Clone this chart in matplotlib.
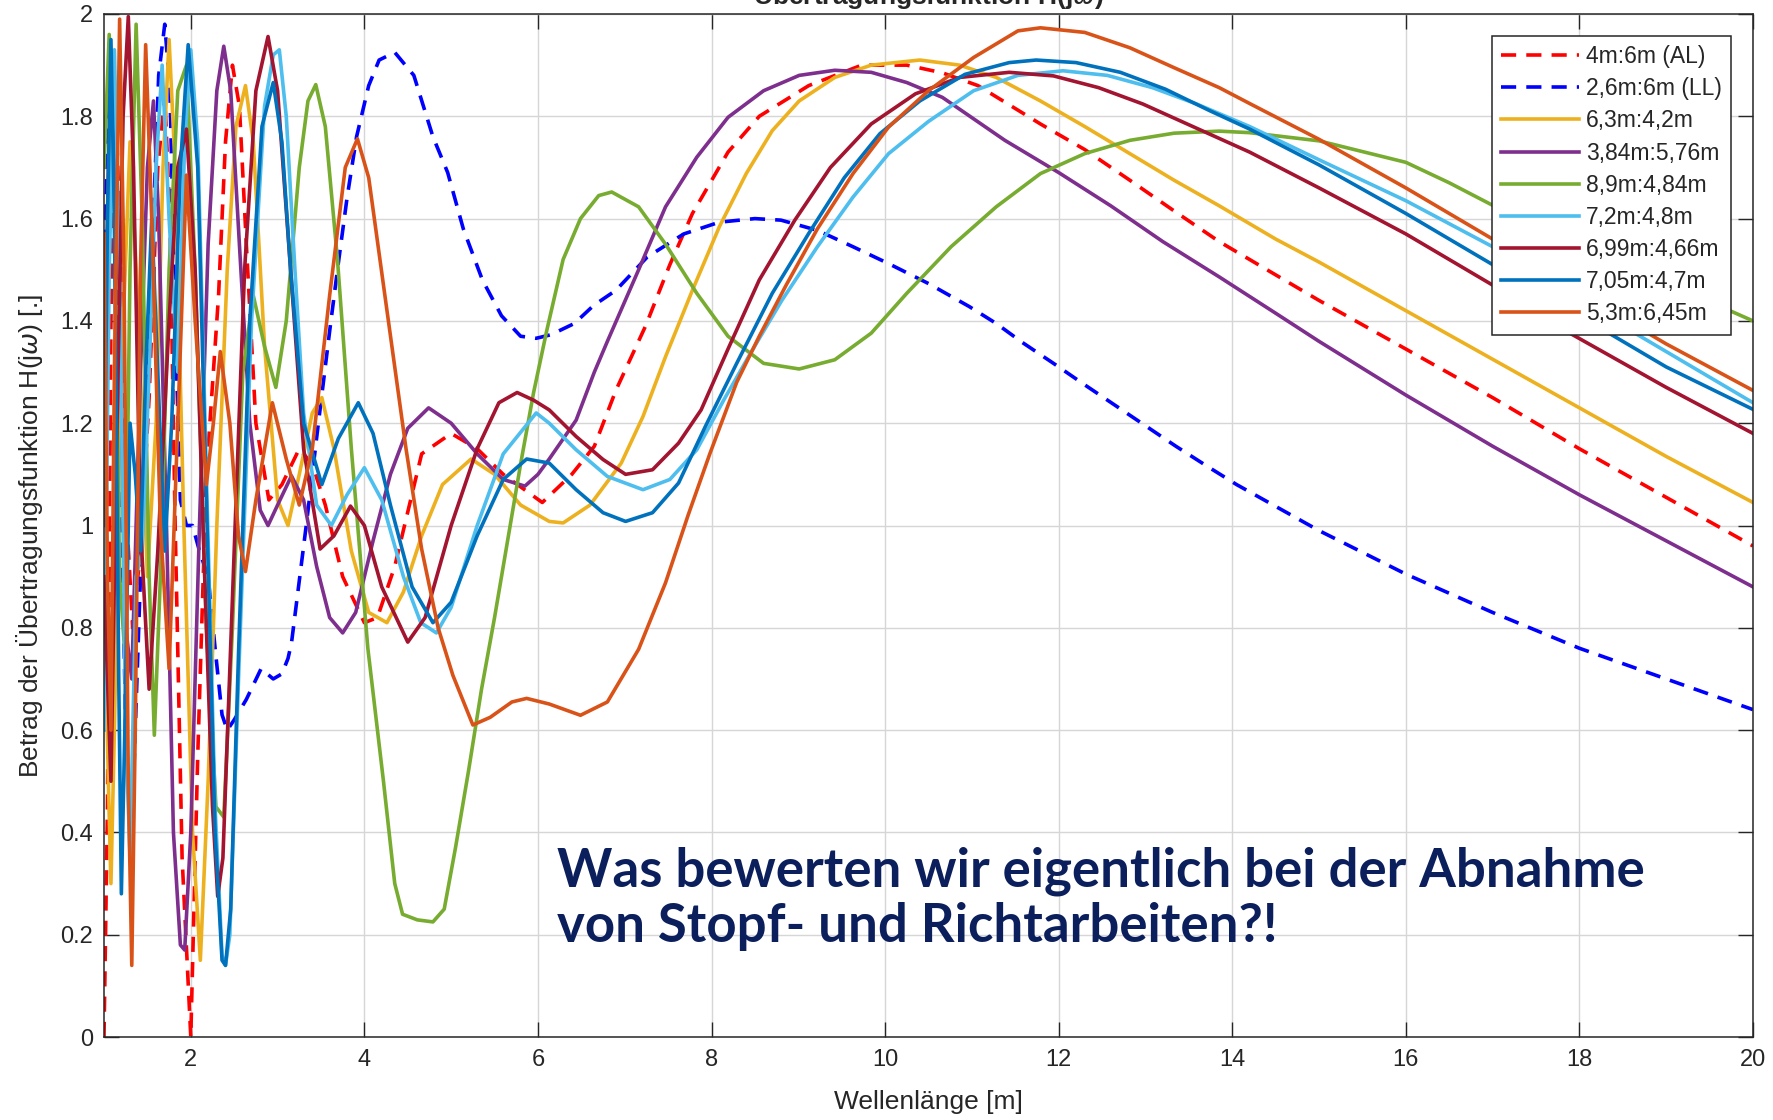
import matplotlib.pyplot as plt

# Betrag der Uebertragungsfunktion (x = Wellenlaenge in m)
al_x = [1.00, 1.04, 1.08, 1.13, 1.18, 1.25, 1.33, 1.42, 1.52, 1.62, 1.70, 1.76, 1.82, 1.90, 2.00, 2.08, 2.18, 2.32, 2.40, 2.48, 2.56, 2.64, 2.75, 2.90, 3.05, 3.25, 3.40, 3.55, 3.75, 4.00, 4.15, 4.35, 4.66, 5.00, 5.30, 5.60, 6.05, 6.39, 6.65, 6.90, 7.24, 7.52, 7.78, 8.19, 8.55, 9.12, 9.73, 10.25, 10.66, 11.07, 11.79, 12.30, 12.82, 13.33, 13.85, 14.50, 15.00, 16.00, 17.00, 18.00, 19.00, 20.00]
al_y = [0.00, 0.45, 1.40, 1.84, 1.60, 1.05, 0.80, 0.95, 1.25, 1.70, 1.84, 1.60, 1.00, 0.35, 0.00, 0.55, 1.10, 1.45, 1.75, 1.90, 1.82, 1.55, 1.20, 1.05, 1.08, 1.15, 1.12, 1.04, 0.90, 0.81, 0.82, 0.92, 1.14, 1.18, 1.15, 1.10, 1.045, 1.10, 1.155, 1.265, 1.39, 1.51, 1.61, 1.73, 1.80, 1.86, 1.90, 1.90, 1.885, 1.86, 1.785, 1.735, 1.675, 1.615, 1.555, 1.49, 1.44, 1.345, 1.25, 1.15, 1.055, 0.96]

ll_x = [1.00, 1.04, 1.08, 1.15, 1.25, 1.32, 1.40, 1.50, 1.57, 1.63, 1.70, 1.76, 1.82, 1.88, 1.95, 2.02, 2.10, 2.20, 2.28, 2.36, 2.42, 2.50, 2.64, 2.81, 2.95, 3.05, 3.12, 3.16, 3.33, 3.47, 3.60, 3.69, 3.80, 3.91, 4.05, 4.17, 4.35, 4.57, 4.79, 4.96, 5.14, 5.36, 5.58, 5.80, 5.98, 6.15, 6.42, 6.64, 6.90, 7.26, 7.68, 8.09, 8.50, 8.80, 9.22, 9.63, 10.04, 10.50, 10.97, 11.28, 11.58, 11.94, 12.30, 12.65, 13.00, 13.35, 13.70, 14.05, 15.00, 16.00, 17.00, 18.00, 19.00, 20.00]
ll_y = [1.45, 1.75, 1.90, 1.50, 0.60, 0.40, 0.80, 1.30, 1.60, 1.88, 1.98, 1.85, 1.40, 1.05, 1.00, 1.00, 0.95, 0.90, 0.76, 0.63, 0.60, 0.62, 0.66, 0.72, 0.70, 0.71, 0.74, 0.77, 1.00, 1.20, 1.38, 1.50, 1.64, 1.76, 1.86, 1.91, 1.925, 1.88, 1.76, 1.69, 1.58, 1.48, 1.41, 1.37, 1.366, 1.373, 1.395, 1.43, 1.46, 1.525, 1.57, 1.593, 1.60, 1.597, 1.577, 1.545, 1.512, 1.473, 1.428, 1.395, 1.358, 1.317, 1.275, 1.235, 1.195, 1.155, 1.117, 1.08, 0.99, 0.905, 0.83, 0.76, 0.70, 0.64]

ye_x = [1.00, 1.05, 1.08, 1.12, 1.20, 1.30, 1.40, 1.50, 1.60, 1.68, 1.75, 1.82, 1.92, 2.02, 2.11, 2.20, 2.30, 2.42, 2.52, 2.63, 2.72, 2.85, 3.00, 3.12, 3.25, 3.40, 3.51, 3.65, 3.85, 4.05, 4.26, 4.45, 4.66, 4.90, 5.23, 5.50, 5.80, 6.13, 6.29, 6.60, 6.96, 7.21, 7.47, 7.78, 8.09, 8.40, 8.70, 9.01, 9.42, 9.84, 10.40, 10.86, 11.28, 11.79, 12.30, 12.82, 13.33, 13.85, 14.50, 15.00, 16.00, 17.00, 18.00, 19.00, 20.00]
ye_y = [0.90, 0.50, 0.30, 0.60, 1.30, 1.75, 1.40, 0.90, 1.20, 1.70, 1.95, 1.70, 1.00, 0.40, 0.15, 0.50, 1.00, 1.50, 1.78, 1.86, 1.75, 1.35, 1.05, 1.00, 1.10, 1.22, 1.25, 1.15, 0.95, 0.83, 0.81, 0.87, 0.98, 1.08, 1.13, 1.10, 1.04, 1.008, 1.005, 1.04, 1.122, 1.213, 1.33, 1.46, 1.584, 1.688, 1.772, 1.83, 1.876, 1.90, 1.91, 1.90, 1.876, 1.83, 1.78, 1.727, 1.675, 1.625, 1.56, 1.515, 1.42, 1.325, 1.23, 1.135, 1.045]

pu_x = [1.00, 1.05, 1.10, 1.17, 1.25, 1.32, 1.42, 1.50, 1.57, 1.63, 1.72, 1.80, 1.88, 1.93, 2.00, 2.10, 2.20, 2.30, 2.38, 2.46, 2.56, 2.68, 2.80, 2.89, 3.00, 3.16, 3.30, 3.45, 3.60, 3.75, 3.90, 4.10, 4.30, 4.50, 4.74, 5.00, 5.30, 5.60, 5.85, 6.00, 6.13, 6.44, 6.65, 6.80, 7.16, 7.47, 7.83, 8.19, 8.60, 9.01, 9.42, 9.84, 10.25, 10.66, 11.38, 12.00, 12.60, 13.20, 13.85, 14.50, 15.00, 16.00, 17.00, 18.00, 19.00, 20.00]
pu_y = [1.20, 1.70, 1.90, 1.50, 0.80, 0.70, 1.30, 1.70, 1.83, 1.60, 1.00, 0.40, 0.18, 0.17, 0.40, 1.00, 1.55, 1.85, 1.937, 1.85, 1.55, 1.20, 1.03, 1.00, 1.04, 1.097, 1.05, 0.92, 0.82, 0.79, 0.83, 0.97, 1.10, 1.19, 1.23, 1.20, 1.14, 1.09, 1.077, 1.10, 1.13, 1.206, 1.30, 1.36, 1.50, 1.623, 1.72, 1.798, 1.85, 1.88, 1.89, 1.886, 1.866, 1.837, 1.753, 1.69, 1.625, 1.555, 1.486, 1.415, 1.36, 1.255, 1.155, 1.06, 0.97, 0.88]

gr_x = [1.00, 1.06, 1.12, 1.18, 1.24, 1.30, 1.37, 1.44, 1.52, 1.58, 1.65, 1.75, 1.85, 1.95, 2.05, 2.18, 2.29, 2.38, 2.48, 2.60, 2.72, 2.85, 2.98, 3.10, 3.25, 3.35, 3.44, 3.55, 3.69, 3.85, 4.04, 4.22, 4.35, 4.44, 4.61, 4.79, 4.92, 5.05, 5.20, 5.35, 5.50, 5.65, 5.80, 5.95, 6.10, 6.29, 6.49, 6.70, 6.85, 7.16, 7.47, 7.83, 8.19, 8.60, 9.01, 9.42, 9.84, 10.25, 10.76, 11.28, 11.79, 12.30, 12.82, 13.33, 13.85, 14.20, 15.00, 16.00, 16.50, 17.00, 18.00, 19.00, 20.00]
gr_y = [1.70, 1.96, 1.60, 0.90, 0.75, 1.50, 1.98, 1.60, 0.90, 0.59, 0.90, 1.50, 1.85, 1.90, 1.50, 0.80, 0.45, 0.43, 0.80, 1.30, 1.45, 1.35, 1.27, 1.40, 1.70, 1.83, 1.862, 1.78, 1.52, 1.15, 0.76, 0.50, 0.30, 0.24, 0.229, 0.225, 0.25, 0.37, 0.52, 0.68, 0.82, 0.97, 1.12, 1.26, 1.38, 1.52, 1.60, 1.645, 1.652, 1.623, 1.55, 1.454, 1.37, 1.317, 1.306, 1.324, 1.376, 1.454, 1.545, 1.623, 1.688, 1.727, 1.753, 1.767, 1.771, 1.768, 1.752, 1.71, 1.67, 1.626, 1.55, 1.475, 1.40]

lb_x = [1.00, 1.06, 1.12, 1.18, 1.25, 1.30, 1.37, 1.44, 1.52, 1.60, 1.67, 1.75, 1.85, 1.93, 2.00, 2.08, 2.18, 2.28, 2.36, 2.40, 2.45, 2.55, 2.70, 2.85, 2.95, 3.02, 3.10, 3.20, 3.30, 3.45, 3.62, 3.80, 4.00, 4.20, 4.45, 4.65, 4.83, 5.00, 5.30, 5.60, 5.98, 6.13, 6.44, 6.80, 7.21, 7.52, 7.83, 8.14, 8.45, 8.81, 9.22, 9.63, 10.04, 10.50, 11.02, 11.53, 12.05, 12.56, 13.08, 13.59, 14.20, 15.00, 16.00, 16.50, 17.00, 18.00, 18.65, 19.00, 20.00]
lb_y = [0.60, 1.50, 1.93, 1.50, 0.60, 0.35, 0.90, 0.95, 1.30, 1.70, 1.90, 1.60, 1.30, 1.75, 1.93, 1.75, 1.10, 0.45, 0.16, 0.14, 0.20, 0.70, 1.40, 1.82, 1.92, 1.93, 1.80, 1.50, 1.22, 1.04, 1.00, 1.06, 1.113, 1.05, 0.90, 0.81, 0.79, 0.84, 1.00, 1.14, 1.22, 1.20, 1.148, 1.096, 1.07, 1.09, 1.148, 1.245, 1.337, 1.44, 1.545, 1.642, 1.727, 1.79, 1.85, 1.88, 1.889, 1.88, 1.856, 1.824, 1.78, 1.715, 1.635, 1.59, 1.545, 1.445, 1.375, 1.34, 1.24]

dr_x = [1.00, 1.08, 1.15, 1.22, 1.28, 1.34, 1.42, 1.52, 1.62, 1.75, 1.85, 1.95, 2.05, 2.15, 2.25, 2.31, 2.37, 2.50, 2.62, 2.75, 2.89, 3.00, 3.15, 3.30, 3.49, 3.65, 3.84, 4.00, 4.20, 4.50, 4.70, 5.00, 5.30, 5.55, 5.76, 5.95, 6.13, 6.44, 6.75, 7.01, 7.32, 7.62, 7.88, 8.19, 8.55, 8.96, 9.37, 9.84, 10.35, 10.86, 11.43, 11.94, 12.46, 12.97, 13.48, 14.20, 15.00, 16.00, 16.50, 17.00, 17.90, 19.00, 20.00]
dr_y = [0.90, 0.50, 1.20, 1.80, 1.995, 1.70, 1.00, 0.68, 0.95, 1.40, 1.70, 1.775, 1.50, 0.95, 0.45, 0.275, 0.35, 0.95, 1.50, 1.85, 1.956, 1.85, 1.50, 1.15, 0.954, 0.98, 1.038, 1.00, 0.88, 0.772, 0.82, 1.00, 1.15, 1.24, 1.26, 1.245, 1.226, 1.174, 1.129, 1.10, 1.109, 1.161, 1.226, 1.345, 1.48, 1.597, 1.70, 1.785, 1.844, 1.876, 1.886, 1.879, 1.856, 1.824, 1.785, 1.73, 1.66, 1.57, 1.52, 1.47, 1.375, 1.27, 1.18]

bl_x = [1.00, 1.04, 1.08, 1.12, 1.17, 1.20, 1.24, 1.30, 1.36, 1.42, 1.48, 1.55, 1.62, 1.70, 1.78, 1.88, 1.97, 2.08, 2.18, 2.28, 2.36, 2.40, 2.46, 2.55, 2.68, 2.82, 2.95, 3.05, 3.15, 3.30, 3.51, 3.70, 3.93, 4.10, 4.30, 4.55, 4.79, 5.00, 5.30, 5.60, 5.87, 6.13, 6.44, 6.75, 7.01, 7.32, 7.62, 7.93, 8.29, 8.70, 9.12, 9.53, 9.94, 10.40, 10.92, 11.43, 11.74, 12.20, 12.71, 13.23, 13.74, 14.20, 15.00, 16.00, 16.50, 17.00, 18.00, 18.35, 19.00, 20.00]
bl_y = [1.00, 1.60, 1.95, 1.60, 0.70, 0.28, 0.60, 1.20, 1.10, 0.95, 1.30, 1.60, 1.30, 0.95, 1.20, 1.70, 1.94, 1.70, 1.05, 0.40, 0.15, 0.14, 0.25, 0.75, 1.40, 1.78, 1.866, 1.75, 1.50, 1.20, 1.08, 1.17, 1.24, 1.18, 1.04, 0.88, 0.81, 0.85, 0.98, 1.09, 1.13, 1.122, 1.07, 1.025, 1.008, 1.025, 1.083, 1.194, 1.317, 1.454, 1.571, 1.68, 1.766, 1.83, 1.882, 1.905, 1.91, 1.905, 1.886, 1.853, 1.811, 1.775, 1.705, 1.61, 1.56, 1.51, 1.41, 1.375, 1.31, 1.227]

or_x = [1.00, 1.04, 1.08, 1.12, 1.18, 1.23, 1.28, 1.32, 1.36, 1.42, 1.48, 1.55, 1.65, 1.75, 1.85, 1.95, 2.05, 2.18, 2.26, 2.34, 2.45, 2.55, 2.63, 2.75, 2.94, 3.10, 3.25, 3.40, 3.60, 3.78, 3.92, 4.05, 4.22, 4.48, 4.66, 4.85, 5.02, 5.25, 5.45, 5.70, 5.87, 6.13, 6.49, 6.80, 7.16, 7.47, 7.73, 7.98, 8.29, 8.55, 8.86, 9.22, 9.63, 10.04, 10.50, 11.02, 11.53, 11.79, 12.30, 12.82, 13.33, 13.85, 14.20, 15.00, 16.00, 17.00, 18.00, 19.00, 20.00]
or_y = [1.57, 0.90, 0.60, 1.30, 1.99, 1.50, 0.50, 0.14, 0.60, 1.50, 1.94, 1.60, 1.00, 0.72, 1.20, 1.685, 1.40, 1.08, 1.20, 1.34, 1.20, 0.98, 0.91, 1.05, 1.24, 1.13, 1.04, 1.15, 1.45, 1.70, 1.756, 1.68, 1.47, 1.15, 0.954, 0.80, 0.707, 0.61, 0.625, 0.655, 0.662, 0.651, 0.629, 0.655, 0.758, 0.888, 1.02, 1.14, 1.28, 1.37, 1.47, 1.58, 1.688, 1.779, 1.85, 1.915, 1.967, 1.973, 1.964, 1.934, 1.895, 1.856, 1.825, 1.755, 1.66, 1.56, 1.455, 1.355, 1.264]

labels = ['4m:6m (AL)', '2,6m:6m (LL)', '6,3m:4,2m', '3,84m:5,76m', '8,9m:4,84m',
          '7,2m:4,8m', '6,99m:4,66m', '7,05m:4,7m', '5,3m:6,45m']
colors = ['#FF0000', '#0000FF', '#EDB120', '#7E2F8E', '#77AC30',
          '#4DBEEE', '#A2142F', '#0072BD', '#D95319']
series = [(al_x, al_y), (ll_x, ll_y), (ye_x, ye_y), (pu_x, pu_y), (gr_x, gr_y),
          (lb_x, lb_y), (dr_x, dr_y), (bl_x, bl_y), (or_x, or_y)]

plt.rcParams['font.family'] = ['Liberation Sans', 'DejaVu Sans']
txt = '#262626'

W, H = 1773, 1120
fig = plt.figure(figsize=(W / 100, H / 100), dpi=100)
ax = fig.add_axes([104 / W, 1 - 1037 / H, (1753 - 104) / W, (1037 - 14) / H])

for i, (xs, ys) in enumerate(series):
    if i < 2:
        ax.plot(xs, ys, color=colors[i], lw=2.6, ls=(0, (4.2, 2.8)), label=labels[i])
    else:
        ax.plot(xs, ys, color=colors[i], lw=2.6, label=labels[i])

ax.set_xlim(1, 20)
ax.set_ylim(0, 2)
ax.set_xticks(range(2, 21, 2))
ax.set_yticks([i * 0.2 for i in range(11)])
ax.set_yticklabels(['0', '0.2', '0.4', '0.6', '0.8', '1', '1.2', '1.4', '1.6', '1.8', '2'])
ax.grid(True, color='#d6d6d6', lw=1)
ax.set_axisbelow(True)
ax.tick_params(direction='in', length=11, width=1, colors=txt, labelsize=17,
               top=True, right=True)
ax.tick_params(axis='x', pad=9)
ax.tick_params(axis='y', pad=8)
for s in ax.spines.values():
    s.set_color(txt)
    s.set_linewidth(1.1)

ax.set_xlabel('Wellenlänge [m]', fontsize=19, color=txt)
ax.xaxis.set_label_coords(0.5, -0.052)
ax.set_ylabel('Betrag der Übertragungsfunktion H(j$\\omega$) [.]', fontsize=19, color=txt)
ax.yaxis.set_label_coords(-0.036, 0.49)

leg = ax.legend(loc='upper right', bbox_to_anchor=(0.9867, 0.9785), borderaxespad=0,
                fontsize=16.5, handlelength=3.4, handletextpad=0.3, labelspacing=0.4,
                borderpad=0.4, fancybox=False, framealpha=1, edgecolor=txt)
leg.get_frame().set_linewidth(1.1)
for t in leg.get_texts():
    t.set_color(txt)

# Titel ist oben abgeschnitten
fig.text(0.5237, 1 - 4 / H, 'Übertragungsfunktion H(j$\\omega$)', ha='center', va='baseline',
         fontsize=19, fontweight='bold', color=txt)

note = '#0b1f5c'
fam = ['Lato', 'DejaVu Sans']
fig.text(557 / W, 1 - 886 / H, 'Was bewerten wir eigentlich bei der Abnahme',
         family=fam, fontweight='bold', fontsize=38, color=note, va='baseline')
fig.text(557 / W, 1 - 942 / H, 'von Stopf- und Richtarbeiten?!',
         family=fam, fontweight='bold', fontsize=38, color=note, va='baseline')

fig.savefig('out.png', dpi=100)
